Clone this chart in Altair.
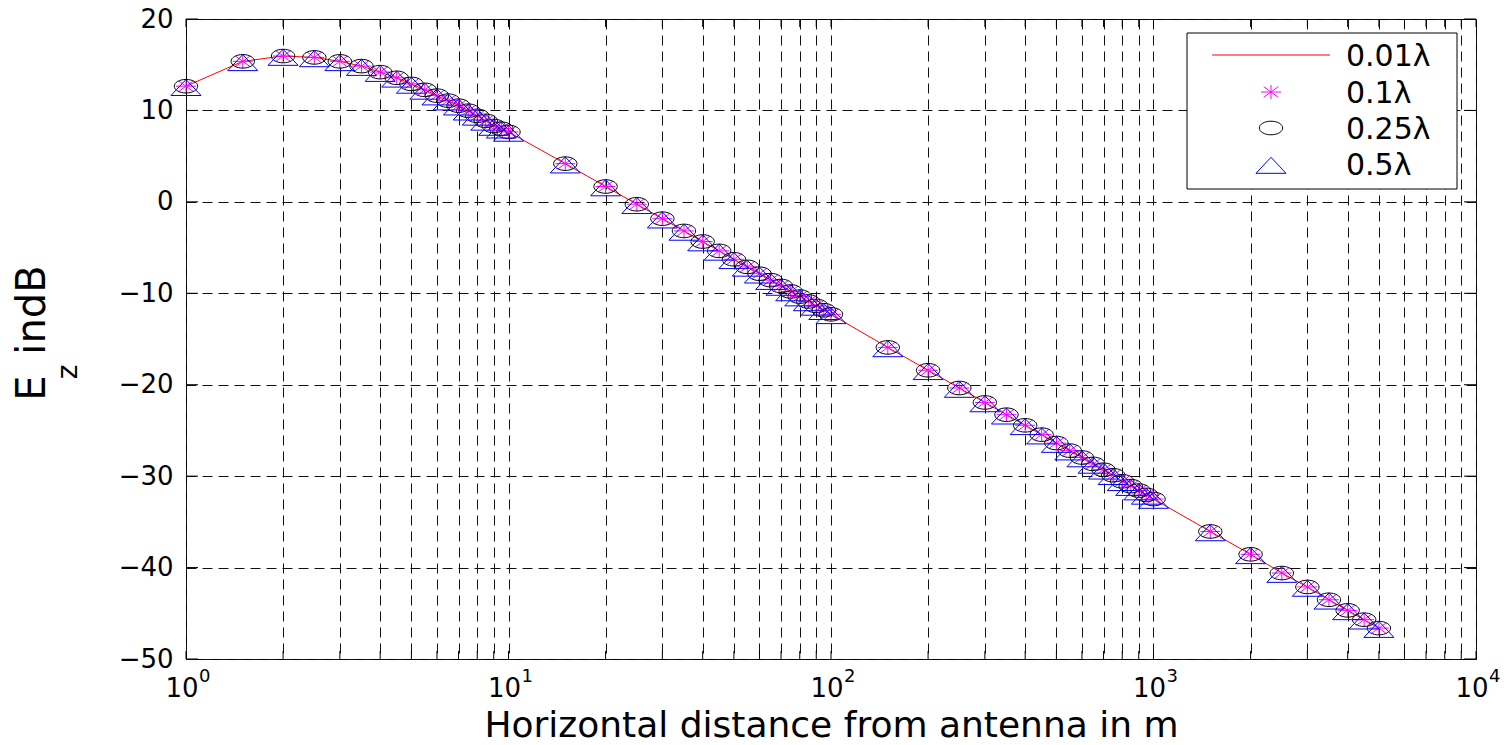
import altair as alt
import pandas as pd

# ---------------- data ----------------
dist_m = [1, 1.5, 2, 2.5, 3, 3.5, 4, 4.5, 5, 5.5, 6, 6.5, 7, 7.5, 8, 8.5, 9, 9.5, 10,
          15, 20, 25, 30, 35, 40, 45, 50, 55, 60, 65, 70, 75, 80, 85, 90, 95, 100,
          150, 200, 250, 300, 350, 400, 450, 500, 550, 600, 650, 700, 750, 800, 850, 900, 950, 1000,
          1500, 2000, 2500, 3000, 3500, 4000, 4500, 5000]

ez_001 = [12.65, 15.37, 15.95, 15.8, 15.37, 14.85, 14.19, 13.57, 12.9, 12.25, 11.62, 11.07, 10.52, 9.97, 9.41, 8.86, 8.3, 8.0, 7.65,
          4.18, 1.68, -0.26, -1.84, -3.18, -4.34, -5.36, -6.28, -7.11, -7.86, -8.56, -9.2, -9.8, -10.36, -10.89, -11.38, -11.85, -12.3,
          -15.92, -18.42, -20.36, -21.94, -23.28, -24.44, -25.46, -26.38, -27.21, -27.96, -28.66, -29.3, -29.9, -30.56, -31.09, -31.58, -32.05, -32.5,
          -36.05, -38.55, -40.6, -42.12, -43.52, -44.68, -45.7, -46.62]
ez_01 = list(ez_001)
ez_025 = list(ez_001)
ez_05 = list(ez_001)

series_labels = ["0.01λ", "0.1λ", "0.25λ", "0.5λ"]

x_grid = [1, 2, 3, 4, 5, 6, 7, 8, 9,
          10, 20, 30, 40, 50, 60, 70, 80, 90,
          100, 200, 300, 400, 500, 600, 700, 800, 900,
          1000, 2000, 3000, 4000, 5000, 6000, 7000, 8000, 9000, 10000]
y_ticks = [-50, -40, -30, -20, -10, 0, 10, 20]
decades = [1, 10, 100, 1000, 10000]
decade_exp = ["0", "1", "2", "3", "4"]

# ---------------- tables ----------------
rows = []
for lab, vals in zip(series_labels, [ez_001, ez_01, ez_025, ez_05]):
    for d, v in zip(dist_m, vals):
        rows.append({"series": lab, "dist": d, "ez": v})
df = pd.DataFrame(rows)
xg = pd.DataFrame({"dist": x_grid})
yg = pd.DataFrame({"ez": y_ticks})
dec = pd.DataFrame({"dist": decades, "exp": decade_exp})
one = pd.DataFrame({"k": [0]})

W, H = 1290, 640
FONT = "DejaVu Sans"

ASTER = "M-0.85,0L0.85,0M0,-0.6L0,0.6M-0.62,-0.45L0.62,0.45M-0.62,0.45L0.62,-0.45"
ELLIPSE = "M-1,0A1,0.58,0,1,0,1,0A1,0.58,0,1,0,-1,0Z"
TRI = "M-1,0.62L1,0.62L0,-0.45Z"

xscale = alt.Scale(type="log", domain=[1, 10000], nice=False)
yscale = alt.Scale(domain=[-50, 20], nice=False)

x_axis = alt.Axis(values=x_grid, labels=False, grid=True,
                  gridDash=[10, 6], gridColor="#111", gridWidth=1,
                  ticks=False, domain=False,
                  title="Horizontal distance from antenna in m",
                  titleFont=FONT, titleFontSize=36, titleFontWeight="normal",
                  titleColor="black", titleBaseline="alphabetic", titleY=77)
y_axis = alt.Axis(values=y_ticks, grid=True, gridDash=[10, 6], gridColor="#111",
                  gridWidth=1, ticks=False, domain=False, labelFont=FONT,
                  labelFontSize=26, labelColor="black", labelPadding=13, title=None)

def X():
    return alt.X("dist:Q", scale=xscale, axis=x_axis)

def Y():
    return alt.Y("ez:Q", scale=yscale, axis=y_axis)

base = alt.Chart(df)
line = base.transform_filter(alt.datum.series == "0.01λ").mark_line(
    color="#ff0000", strokeWidth=1).encode(x=X(), y=Y())
aster = base.transform_filter(alt.datum.series == "0.1λ").mark_point(
    shape=ASTER, size=548, filled=False, color="#ff00ff", strokeWidth=1, opacity=1
).encode(x=X(), y=Y())
ell = base.transform_filter(alt.datum.series == "0.25λ").mark_point(
    shape=ELLIPSE, size=548, filled=False, color="black", strokeWidth=1, opacity=1
).encode(x=X(), y=Y())
tri = base.transform_filter(alt.datum.series == "0.5λ").mark_point(
    shape=TRI, size=900, filled=False, color="#0000ff", strokeWidth=1, opacity=1
).encode(x=X(), y=Y())

# inward ticks
xt_bot = alt.Chart(xg).mark_rule(color="black", strokeWidth=1).encode(
    x=X(), y=alt.value(H), y2=alt.value(H - 8))
xt_top = alt.Chart(xg).mark_rule(color="black", strokeWidth=1).encode(
    x=X(), y=alt.value(0), y2=alt.value(8))
yt_l = alt.Chart(yg).mark_rule(color="black", strokeWidth=1).encode(
    y=Y(), x=alt.value(0), x2=alt.value(12))
yt_r = alt.Chart(yg).mark_rule(color="black", strokeWidth=1).encode(
    y=Y(), x=alt.value(W), x2=alt.value(W - 12))

# x tick labels 10^n with superscripts
ten_lbl = alt.Chart(dec).mark_text(text="10", font=FONT, fontSize=26, align="center",
                                   baseline="alphabetic", dx=-4, color="black").encode(
    x=X(), y=alt.value(H + 38))
sup_lbl = alt.Chart(dec).mark_text(font=FONT, fontSize=18, align="left",
                                   baseline="alphabetic", dx=13, color="black").encode(
    x=X(), y=alt.value(H + 23), text="exp:N")

# legend box
LX0, LX1, LY0, LY1 = 1001, 1271, 14, 170
row_y = [36, 73, 109, 145]
sym_x = 1085
leg_box = alt.Chart(one).mark_rect(fill="white", stroke="black", strokeWidth=1).encode(
    x=alt.value(LX0), x2=alt.value(LX1), y=alt.value(LY0), y2=alt.value(LY1))
leg_line = alt.Chart(one).mark_rule(color="#ff0000", strokeWidth=1).encode(
    x=alt.value(1026), x2=alt.value(1144), y=alt.value(row_y[0]))
leg_aster = alt.Chart(one).mark_point(shape=ASTER, size=548, filled=False, color="#ff00ff",
                                      strokeWidth=1, opacity=1).encode(
    x=alt.value(sym_x), y=alt.value(row_y[1]))
leg_ell = alt.Chart(one).mark_point(shape=ELLIPSE, size=548, filled=False, color="black",
                                    strokeWidth=1, opacity=1).encode(
    x=alt.value(sym_x), y=alt.value(row_y[2]))
leg_tri = alt.Chart(one).mark_point(shape=TRI, size=900, filled=False, color="#0000ff",
                                    strokeWidth=1, opacity=1).encode(
    x=alt.value(sym_x), y=alt.value(row_y[3]))
leg_texts = []
for lab, yy in zip(series_labels, row_y):
    leg_texts.append(alt.Chart(one).mark_text(
        text=lab, font=FONT, fontSize=30, align="left", baseline="middle", color="black"
    ).encode(x=alt.value(1160), y=alt.value(yy + 2)))

# y-axis title  E_z indB
yt_E = alt.Chart(one).mark_text(text="E", font=FONT, fontSize=40, angle=270, align="center",
                                baseline="alphabetic", color="black").encode(
    x=alt.value(-141), y=alt.value(369))
yt_z = alt.Chart(one).mark_text(text="z", font=FONT, fontSize=28, angle=270, align="center",
                                baseline="alphabetic", color="black").encode(
    x=alt.value(-109), y=alt.value(353))
yt_indB = alt.Chart(one).mark_text(text="indB", font=FONT, fontSize=40, angle=270, align="center",
                                   baseline="alphabetic", color="black").encode(
    x=alt.value(-141), y=alt.value(291))

chart = alt.layer(
    line, aster, ell, tri, xt_bot, xt_top, yt_l, yt_r, ten_lbl, sup_lbl,
    leg_box, leg_line, leg_aster, leg_ell, leg_tri, *leg_texts,
    yt_E, yt_z, yt_indB
).properties(
    width=W, height=H,
    autosize=alt.AutoSizeParams(type="none"),
    padding={"left": 186, "top": 19, "right": 33, "bottom": 86},
    background="white"
).configure_view(stroke="black", strokeWidth=1)

chart.save("out.html", embed_options={"renderer": "svg", "actions": False})
